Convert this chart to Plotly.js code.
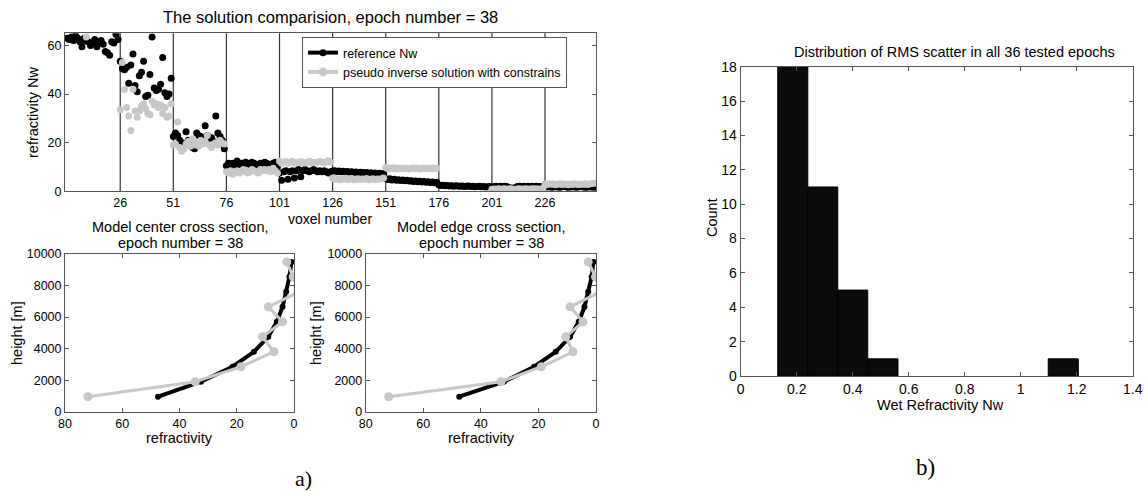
<!DOCTYPE html>
<html>
<head>
<meta charset="utf-8">
<script src="https://cdn.plot.ly/plotly-3.0.1.min.js"></script>
<style>html,body{margin:0;padding:0;background:#fff;}#chart{width:1145px;height:491px;}</style>
</head>
<body>
<div id="chart"></div>
<script>
// ---------- DATA ----------
// Top panel: 250 voxels (10 layers x 25 voxels)
const refNw = [
  63, 62.5, 63.5, 62, 64, 63, 61.5, 59.5, 63, 61.8, 61.5, 60, 61, 62.5, 59.5, 61, 62, 60.5, 57.5, 57, 56, 61.5, 61, 64.5, 62.5,
  53.5, 50.5, 50, 51, 44.5, 52, 56.5, 43.5, 41, 47.5, 49, 53.5, 39, 39.5, 48, 63.5, 42.5, 41.5, 42, 44, 55, 40.5, 39, 40, 46.5,
  22.5, 24, 23, 21, 20, 19.5, 24.5, 21, 19, 18, 17.5, 24, 23, 22.5, 21.5, 27, 23, 21, 22, 20.5, 31, 24, 22.5, 21, 17.5,
  10.5, 11.5, 11, 11.5, 10.5, 12.5, 11, 11.5, 11, 12, 11.5, 11, 12, 11.5, 11, 10.5, 11.5, 11, 12, 11.5, 11, 10.5, 11.5, 12, 10,
  7.5, 4.5, 8, 8.5, 5, 8, 8.5, 5.5, 8.5, 9, 6, 8.5, 9, 8.5, 8, 8.5, 9, 8.5, 8, 8.5, 8, 8.5, 8, 7.5, 8,
  8.3, 8.5, 8.1, 8.3, 8.0, 8.2, 7.9, 8.1, 7.8, 8.0, 7.7, 7.9, 7.6, 7.8, 7.7, 7.5, 7.7, 7.4, 7.6, 7.3, 7.5, 7.2, 7.4, 7.1, 7.3,
  5.3, 4.9, 5.2, 4.7, 5.0, 4.5, 4.8, 4.4, 4.6, 4.3, 4.5, 4.2, 4.3, 4.0, 4.2, 3.9, 4.1, 3.8, 4.0, 3.7, 3.9, 3.6, 3.8, 3.5, 3.7,
  2.6, 2.4, 2.5, 2.3, 2.4, 2.2, 2.3, 2.1, 2.3, 2.2, 2.1, 2.2, 2.0, 2.1, 2.2, 2.0, 2.1, 1.9, 2.0, 2.1, 1.9, 2.0, 1.8, 1.9, 2.0,
  1.4, 2.0, 2.1, 2.0, 2.1, 2.0, 2.1, 2.0, 1.5, 1.4, 1.3, 1.5, 2.0, 2.1, 2.0, 2.1, 2.0, 2.1, 2.0, 2.1, 2.0, 2.1, 2.0, 2.0, 1.4,
  1.9, 1.8, 2.0, 1.7, 1.8, 1.9, 1.8, 1.7, 1.9, 2.0, 1.8, 1.7, 1.8, 1.9, 1.8, 1.7, 1.9, 2.0, 1.8, 1.7, 1.8, 1.9, 1.8, 1.7, 1.8
];
const pseudoNw = [
  71, 73, 70, 74, 72, 69, 75, 71, 73, 63.5, 72, 70, 74, 71, 73, 70, 72, 74, 69, 71, 73, 70, 72, 75, 71,
  33.5, 53, 42, 34.5, 31, 25, 42, 33, 30.5, 33, 35, 36, 34, 32, 31.5, 37, 35.5, 36, 34.5, 35.5, 32, 34.5, 30.5, 31, 36,
  19, 19.5, 28.5, 18, 16.5, 17.5, 19.5, 20.5, 18.5, 21.5, 19, 20, 18.5, 21, 19.5, 20.5, 23, 19, 18, 19.5, 20, 19, 21, 20, 19.5,
  8, 7.5, 8.5, 7, 8, 8.5, 7.5, 8, 9, 8.5, 7.5, 8, 9, 8.5, 8, 7.5, 9, 8.5, 9, 8.5, 9, 8, 9.5, 8.5, 7.5,
  12.5, 11.5, 12, 12.3, 11.5, 12, 12.4, 11.6, 12, 11.7, 12.3, 12, 11.6, 12, 12.4, 11.7, 12, 11.6, 12, 12.3, 12, 11.7, 12.2, 12.6, 12,
  5.5, 5, 5.3, 4.8, 5.2, 5, 5.4, 4.9, 5.1, 5.3, 4.8, 5, 5.2, 4.9, 5.1, 5, 5.3, 4.8, 5, 5.2, 4.9, 5.1, 5, 5.2, 5.5,
  9.8, 9.3, 9.6, 9.4, 9.7, 9.2, 9.5, 9.3, 9.6, 9.4, 9.5, 9.2, 9.4, 9.6, 9.3, 9.5, 9.2, 9.4, 9.6, 9.3, 9.5, 9.4, 9.6, 9.3, 9.5,
  -2, -2.5, -1.8, -2.2, -2.6, -1.9, -2.3, -2.1, -2.7, -2, -2.4, -1.8, -2.2, -2.5, -2, -2.3, -1.9, -2.6, -2.1, -2.4, -2, -2.2, -1.8, -2.5, -2.1,
  0.8, 0.9, 0.7, 1.0, 0.8, 0.9, 1.1, 0.8, 0.9, 1.0, 0.7, 0.8, 0.9, 1.0, 0.8, 0.9, 1.0, 0.8, 0.9, 1.1, 0.9, 1.0, 0.8, 0.9, 1.2,
  3.0, 2.8, 3.1, 2.9, 3.0, 2.7, 2.9, 3.1, 2.8, 3.0, 2.9, 2.7, 3.0, 2.8, 3.1, 2.9, 2.8, 3.0, 2.9, 3.1, 2.8, 3.0, 3.2, 3.3, 3.4
];
const voxelTicks = [26, 51, 76, 101, 126, 151, 176, 201, 226];
const nwTicks = [0, 20, 40, 60];

// Cross sections: layer heights [m]
const layerHeights = [950, 1900, 2850, 3800, 4750, 5700, 6650, 7600, 8550, 9500];
const centerRef    = [47.5, 32.5, 21.5, 14, 9, 6, 4, 2.7, 1.6, 0.9];
const centerPseudo = [72, 34.5, 18.5, 7, 11, 4, 9, -1.7, 0.3, 2.5];
const edgeRef      = [47.5, 32, 21.5, 14, 9, 6, 4, 2.7, 1.5, 0.9];
const edgePseudo   = [72, 33, 19, 8, 10.5, 4.5, 9, -1.5, 0.2, 2.7];
const heightTicks  = [0, 2000, 4000, 6000, 8000, 10000];
const refrTicks    = [80, 60, 40, 20, 0];

// Histogram of RMS scatter
const rmsBinCenters = [0.186, 0.293, 0.400, 0.508, 0.615, 0.723, 0.830, 0.937, 1.045, 1.152];
const rmsCounts     = [18, 11, 5, 1, 0, 0, 0, 0, 0, 1];
const rmsBinWidth = 0.1074;
const rmsTicks   = [0, 0.2, 0.4, 0.6, 0.8, 1, 1.2, 1.4];
const countTicks = [0, 2, 4, 6, 8, 10, 12, 14, 16, 18];

// ---------- STYLE ----------
const FONT = 'Liberation Sans, Arial, Helvetica, sans-serif';
const SERIF = 'Liberation Serif, Times New Roman, serif';
const GRAY = '#c8c8c8';
const W = 1145, H = 491;
const px = x => x / W, py = y => 1 - y / H;

const voxels = refNw.map((_, i) => i + 1);

const axBase = {
  showline: true, linecolor: '#555', linewidth: 1, mirror: 'ticks',
  ticks: 'inside', ticklen: 4, tickcolor: '#555', showgrid: false, zeroline: false,
  tickfont: {family: FONT, size: 12.5, color: '#000'}, tickmode: 'array'
};
const lbl = arr => arr.map(v => String(v));

const traces = [
  {x: [null], y: [null], type: 'scatter', mode: 'lines+markers', name: 'reference Nw',
   line: {color: '#000', width: 4}, marker: {color: '#000', size: 7}, xaxis: 'x', yaxis: 'y'},
  {x: [null], y: [null], type: 'scatter', mode: 'lines+markers', name: 'pseudo inverse solution with constrains',
   line: {color: GRAY, width: 4}, marker: {color: GRAY, size: 9}, xaxis: 'x', yaxis: 'y'},
  {x: voxels, y: refNw, type: 'scatter', mode: 'markers', showlegend: false,
   marker: {color: '#000', size: 7}, xaxis: 'x', yaxis: 'y'},
  {x: voxels, y: pseudoNw, type: 'scatter', mode: 'markers', showlegend: false,
   marker: {color: GRAY, size: 7}, xaxis: 'x', yaxis: 'y'},
  {x: centerRef, y: layerHeights, type: 'scatter', mode: 'lines+markers', showlegend: false,
   line: {color: '#000', width: 4}, marker: {color: '#000', size: 6}, xaxis: 'x2', yaxis: 'y2'},
  {x: centerPseudo, y: layerHeights, type: 'scatter', mode: 'lines+markers', showlegend: false,
   line: {color: GRAY, width: 3}, marker: {color: GRAY, size: 9}, xaxis: 'x2', yaxis: 'y2'},
  {x: edgeRef, y: layerHeights, type: 'scatter', mode: 'lines+markers', showlegend: false,
   line: {color: '#000', width: 4}, marker: {color: '#000', size: 6}, xaxis: 'x3', yaxis: 'y3'},
  {x: edgePseudo, y: layerHeights, type: 'scatter', mode: 'lines+markers', showlegend: false,
   line: {color: GRAY, width: 3}, marker: {color: GRAY, size: 9}, xaxis: 'x3', yaxis: 'y3'},
  {x: rmsBinCenters, y: rmsCounts, type: 'bar', width: rmsBinWidth, showlegend: false,
   marker: {color: '#0b0b0b', line: {color: '#000', width: rmsCounts.map(c => c > 0 ? 1 : 0)}},
   xaxis: 'x4', yaxis: 'y4'}
];

const shapes = voxelTicks.map(v => ({
  type: 'line', xref: 'x', yref: 'y domain', x0: v, x1: v, y0: 0, y1: 1,
  line: {color: '#333', width: 1.2}, layer: 'below'
}));

function ann(text, x, y, size, opts) {
  return Object.assign({text: text, xref: 'paper', yref: 'paper', x: px(x), y: py(y),
    xanchor: 'center', yanchor: 'middle', showarrow: false,
    font: {family: FONT, size: size, color: '#000'}}, opts || {});
}

const annotations = [
  ann('The solution comparision, epoch number = 38', 330, 17, 16.5),
  ann('voxel number', 330, 218.5, 14),
  ann('refractivity Nw', 33, 112, 14.5, {textangle: -90}),
  ann('Model center cross section,', 180, 227, 14.5),
  ann('epoch number = 38', 180, 243, 14.5),
  ann('Model edge cross section,', 481, 227, 14.5),
  ann('epoch number = 38', 481, 243, 14.5),
  ann('height [m]', 17, 333, 14.5, {textangle: -90}),
  ann('height [m]', 316, 333, 14.5, {textangle: -90}),
  ann('refractivity', 179, 438, 14.5),
  ann('refractivity', 481, 438, 14.5),
  ann('Distribution of RMS scatter in all 36 tested epochs', 954, 52, 14.5),
  ann('Count', 712, 218, 14.5, {textangle: -90}),
  ann('Wet Refractivity Nw', 940, 405, 14.5),
  ann('a)', 303, 478, 22, {font: {family: SERIF, size: 22, color: '#000'}}),
  ann('b)', 925, 467, 23, {font: {family: SERIF, size: 23, color: '#000'}})
];

const layout = {
  width: W, height: H,
  margin: {l: 0, r: 0, t: 0, b: 0},
  paper_bgcolor: '#fff', plot_bgcolor: '#fff',
  font: {family: FONT, color: '#000'},
  showlegend: true,
  legend: {x: px(302), y: py(37), xanchor: 'left', yanchor: 'top',
    bgcolor: '#fff', bordercolor: '#555', borderwidth: 1,
    font: {family: FONT, size: 12.5, color: '#000'}, tracegroupgap: 0},
  xaxis: Object.assign({}, axBase, {domain: [px(65), px(596)], range: [0, 250], anchor: 'y',
    tickvals: voxelTicks, ticktext: lbl(voxelTicks), ticklen: 0}),
  yaxis: Object.assign({}, axBase, {domain: [py(191.3), py(33.3)], range: [0, 65], anchor: 'x',
    tickvals: nwTicks, ticktext: lbl(nwTicks)}),
  xaxis2: Object.assign({}, axBase, {domain: [px(65), px(294)], range: [80, 0], anchor: 'y2',
    tickvals: refrTicks, ticktext: lbl(refrTicks)}),
  yaxis2: Object.assign({}, axBase, {domain: [py(411.7), py(254)], range: [0, 10000], anchor: 'x2',
    tickvals: heightTicks, ticktext: lbl(heightTicks)}),
  xaxis3: Object.assign({}, axBase, {domain: [px(365.7), px(596)], range: [80, 0], anchor: 'y3',
    tickvals: refrTicks, ticktext: lbl(refrTicks)}),
  yaxis3: Object.assign({}, axBase, {domain: [py(411.7), py(254)], range: [0, 10000], anchor: 'x3',
    tickvals: heightTicks, ticktext: lbl(heightTicks)}),
  xaxis4: Object.assign({}, axBase, {domain: [px(740.7), px(1132.7)], range: [0, 1.4], anchor: 'y4',
    tickvals: rmsTicks, ticktext: lbl(rmsTicks),
    tickfont: {family: FONT, size: 14, color: '#000'}}),
  yaxis4: Object.assign({}, axBase, {domain: [py(376), py(66.7)], range: [0, 18], anchor: 'x4',
    tickvals: countTicks, ticktext: lbl(countTicks),
    tickfont: {family: FONT, size: 14, color: '#000'}}),
  bargap: 0,
  shapes: shapes,
  annotations: annotations
};

Plotly.newPlot('chart', traces, layout, {displayModeBar: false, staticPlot: true});
</script>
</body>
</html>
